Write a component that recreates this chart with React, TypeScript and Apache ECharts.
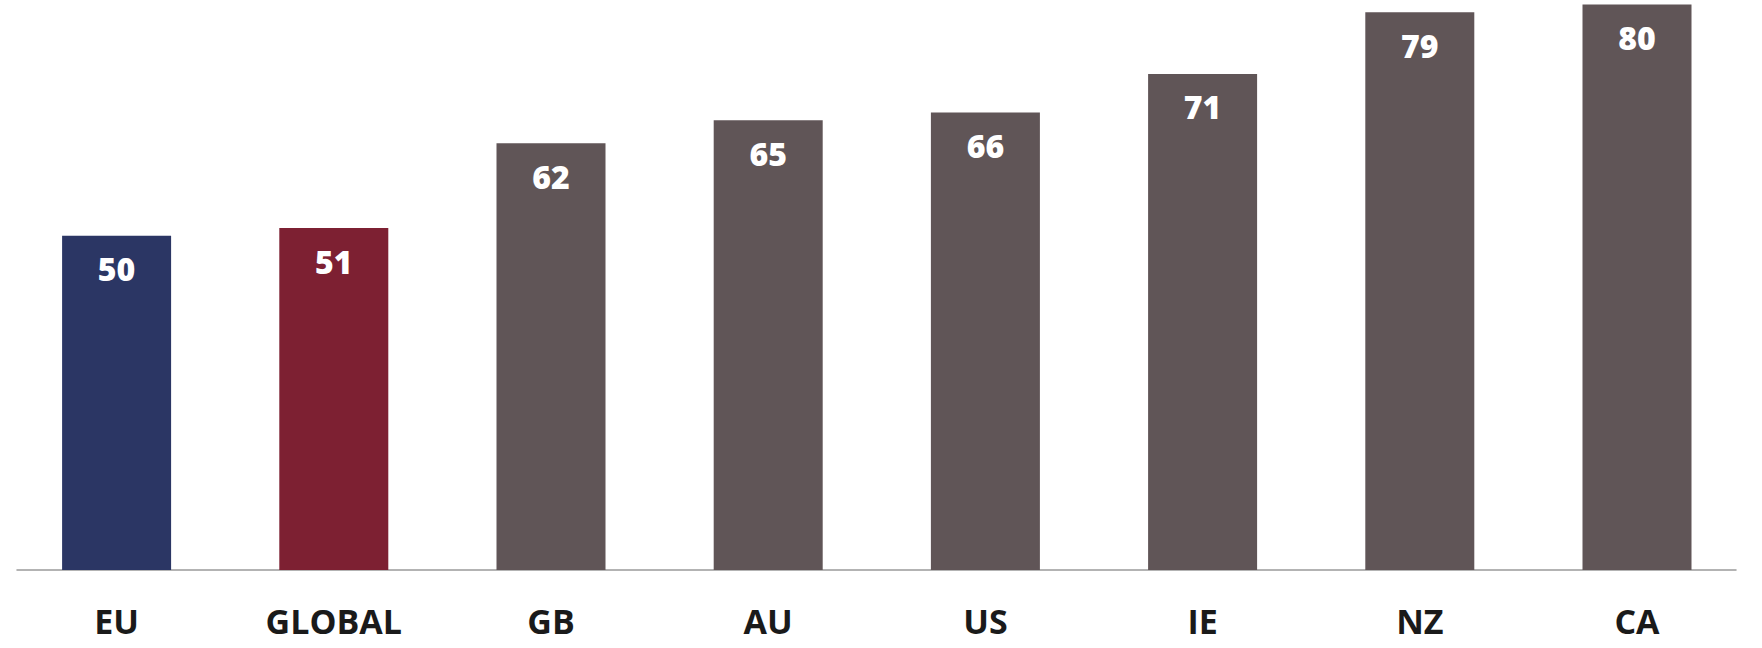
import React, { useEffect, useRef } from "react";
import * as echarts from "echarts";

const categories = ["EU", "GLOBAL", "GB", "AU", "US", "IE", "NZ", "CA"];
const values = [50, 51, 62, 65, 66, 71, 79, 80];
const barColors = ["#2B3664", "#7D2032", "#605557", "#605557", "#605557", "#605557", "#605557", "#605557"];

export default function App() {
  const ref = useRef<HTMLDivElement>(null);
  useEffect(() => {
    if (!ref.current) return;
    const chart = echarts.init(ref.current, undefined, { renderer: "svg" });
    chart.setOption({
      animation: false,
      backgroundColor: "#ffffff",
      grid: [
        { left: 8, right: 16.4, top: 0, bottom: 78, containLabel: false },
        { left: 17, right: 26, top: 0, bottom: 78, containLabel: false },
      ],
      xAxis: [
        {
          type: "category",
          gridIndex: 0,
          data: categories,
          axisLine: { show: false },
          axisTick: { show: false },
          axisLabel: {
            margin: 34,
            color: "#1a1a1a",
            fontFamily: "Open Sans",
            fontWeight: 700,
            fontSize: 34,
          },
        },
        {
          type: "category",
          gridIndex: 1,
          data: categories,
          axisLine: { show: true, lineStyle: { color: "#9a9a9a", width: 1.5 } },
          axisTick: { show: false },
          axisLabel: { show: false },
        },
      ],
      yAxis: [
        { type: "value", gridIndex: 0, min: 6.6, max: 80.6, show: false, splitLine: { show: false } },
        { type: "value", gridIndex: 1, min: 0, max: 1, show: false, splitLine: { show: false } },
      ],
      series: [
        {
          type: "bar",
          xAxisIndex: 0,
          yAxisIndex: 0,
          barWidth: 109,
          data: values.map((v, i) => ({ value: v, itemStyle: { color: barColors[i] } })),
          label: {
            show: true,
            position: "insideTop",
            distance: 17,
            color: "#ffffff",
            fontFamily: "Open Sans",
            fontWeight: 800,
            fontSize: 32,
          },
        },
      ],
    });
    return () => chart.dispose();
  }, []);
  return (
    <div
      ref={ref}
      style={{ position: "absolute", left: 0, top: 0, width: 1762, height: 648 }}
    />
  );
}
